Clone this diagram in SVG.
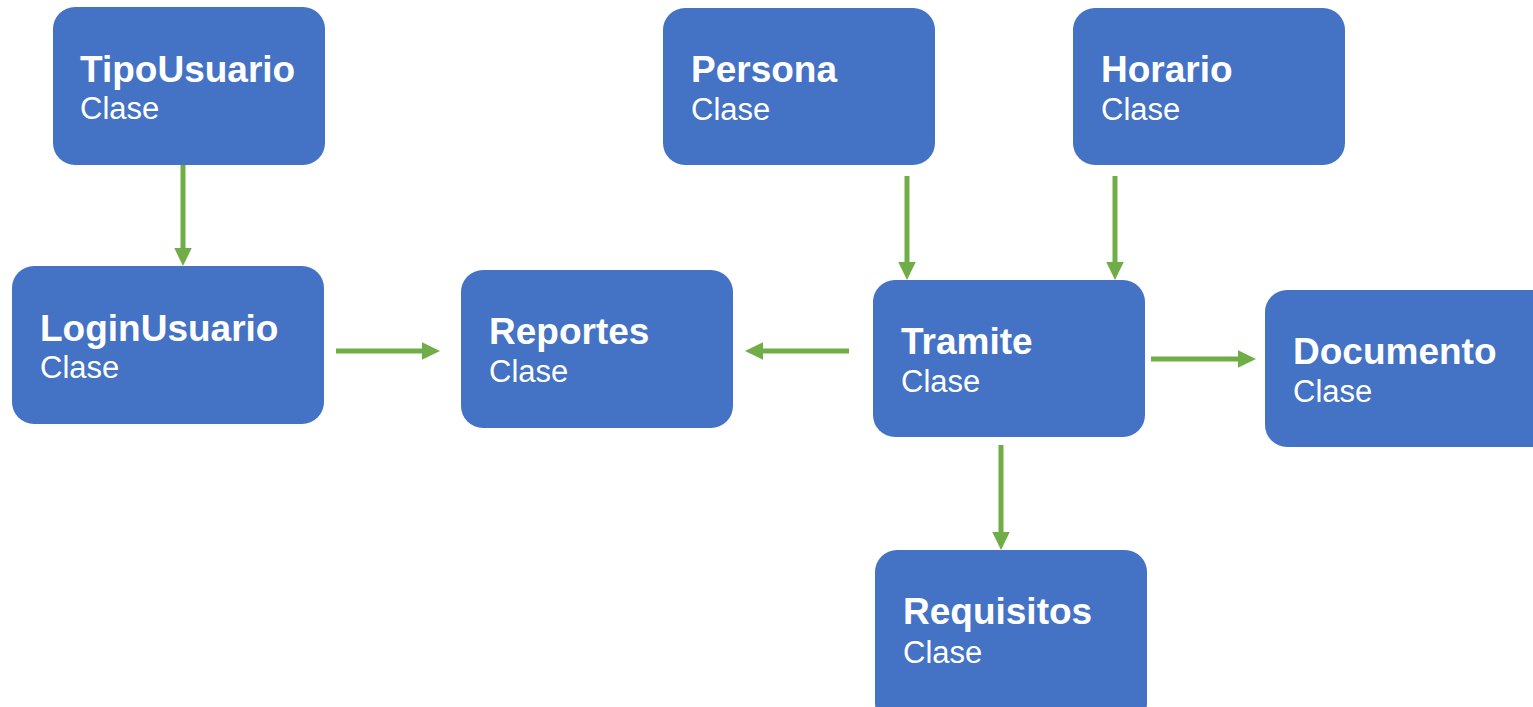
<svg xmlns="http://www.w3.org/2000/svg" width="1533" height="707" viewBox="0 0 1533 707">
<style>
.box{fill:#4472C4;}
.t{font-family:"Liberation Sans",Arial,sans-serif;font-weight:bold;font-size:37px;fill:#fff;}
.s{font-family:"Liberation Sans",Arial,sans-serif;font-size:31px;fill:#fff;}
.c{stroke:#70AD47;stroke-width:5;fill:none;marker-end:url(#ah);}
</style>
<defs>
<marker id="ah" markerWidth="5" markerHeight="5" refX="0.2" refY="2.5" orient="auto" markerUnits="strokeWidth">
<path d="M0,0.75 L3.6,2.5 L0,4.25 Z" fill="#70AD47"/>
</marker>
</defs>
<rect width="1533" height="707" fill="#fff"/>
<g id="connectors">
<line class="c" x1="183" y1="163" x2="183" y2="249"/>
<line class="c" x1="336" y1="351" x2="423" y2="351"/>
<line class="c" x1="849" y1="351" x2="762" y2="351"/>
<line class="c" x1="907" y1="176" x2="907" y2="263"/>
<line class="c" x1="1115" y1="176" x2="1115" y2="263"/>
<line class="c" x1="1151" y1="359" x2="1239" y2="359"/>
<line class="c" x1="1001" y1="445" x2="1001" y2="533"/>
</g>
<g id="TipoUsuario"><rect class="box" x="53" y="7" width="272" height="158" rx="22"/><text class="t" x="80" y="82">TipoUsuario</text><text class="s" x="80" y="119">Clase</text></g>
<g id="LoginUsuario"><rect class="box" x="12" y="266" width="312" height="158" rx="22"/><text class="t" x="40" y="341">LoginUsuario</text><text class="s" x="40" y="378">Clase</text></g>
<g id="Reportes"><rect class="box" x="461" y="270" width="272" height="158" rx="22"/><text class="t" x="489" y="344">Reportes</text><text class="s" x="489" y="382">Clase</text></g>
<g id="Persona"><rect class="box" x="663" y="8" width="272" height="157" rx="22"/><text class="t" x="691" y="82">Persona</text><text class="s" x="691" y="120">Clase</text></g>
<g id="Horario"><rect class="box" x="1073" y="8" width="272" height="157" rx="22"/><text class="t" x="1101" y="82">Horario</text><text class="s" x="1101" y="120">Clase</text></g>
<g id="Tramite"><rect class="box" x="873" y="280" width="272" height="157" rx="22"/><text class="t" x="901" y="354">Tramite</text><text class="s" x="901" y="392">Clase</text></g>
<g id="Documento"><rect class="box" x="1265" y="290" width="290" height="157" rx="22"/><text class="t" x="1293" y="364">Documento</text><text class="s" x="1293" y="402">Clase</text></g>
<g id="Requisitos"><rect class="box" x="875" y="550" width="272" height="175" rx="22"/><text class="t" x="903" y="624">Requisitos</text><text class="s" x="903" y="663">Clase</text></g>
</svg>
